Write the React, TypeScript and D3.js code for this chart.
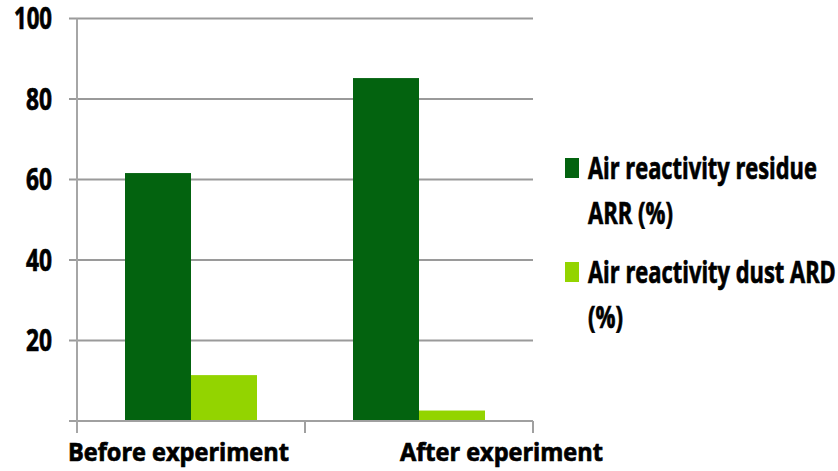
import React, { useLayoutEffect, useRef, useState } from "react";
import * as d3 from "d3";

const categories = ["Before experiment", "After experiment"];
const seriesNames = ["Air reactivity residue ARR (%)", "Air reactivity dust ARD (%)"];
const legendLines = [["Air reactivity residue", "ARR (%)"], ["Air reactivity dust ARD", "(%)"]];
const arrValues = [61.6, 85.2];
const ardValues = [11.4, 2.6];
const yTicks = [20, 40, 60, 80, 100];
const colors = ["#03630F", "#93D400"];

const W = 838, H = 471;
const plot = { left: 77, right: 533, top: 18.5, bottom: 421 };
const FONT = "'Open Sans', 'DejaVu Sans', sans-serif";

function FitText(props: { x: number; y: number; width: number; fontSize: number; anchor?: string; children: string }) {
  const ref = useRef<SVGTextElement>(null);
  const [sx, setSx] = useState(1);
  useLayoutEffect(() => {
    if (ref.current) {
      const w = ref.current.getBBox().width;
      if (w > 0) setSx(props.width / w);
    }
  }, [props.width, props.children, props.fontSize]);
  return (
    <text
      ref={ref}
      transform={`translate(${props.x},${props.y}) scale(${sx},1)`}
      textAnchor={props.anchor || "start"}
      fontSize={props.fontSize}
      fontWeight="bold"
      fill="#000"
      stroke="#000"
      strokeWidth={0.7}
    >
      {props.children}
    </text>
  );
}

export default function App() {
  const x = d3.scaleBand<string>().domain(categories).range([plot.left, plot.right]).paddingInner(0).paddingOuter(0);
  const inner = d3.scaleBand<string>().domain(seriesNames).range([0, x.bandwidth()]).paddingInner(0).paddingOuter(48 / 66);
  const y = d3.scaleLinear().domain([0, 100]).range([plot.bottom, plot.top]);
  const series = [arrValues, ardValues];

  const yLabelWidth = (t: number) => (String(t).length === 3 ? 38 : 26);
  const xLabelX = [68, 400];
  const xLabelLen = [221, 203];
  const legendLens = [[229, 85], [248, 35]];
  const legendTop = [158, 262];

  return (
    <svg width={W} height={H} style={{ position: "absolute", left: 0, top: 0, background: "#fff" }} fontFamily={FONT}>
      {yTicks.map((t) => (
        <line key={t} x1={plot.left - 8} x2={plot.right} y1={y(t)} y2={y(t)} stroke="#9a9a9a" strokeWidth={2} />
      ))}
      {series.map((vals, si) =>
        categories.map((c, ci) => (
          <rect
            key={`${si}-${ci}`}
            x={(x(c) as number) + (inner(seriesNames[si]) as number)}
            width={inner.bandwidth()}
            y={y(vals[ci])}
            height={y(0) - y(vals[ci])}
            fill={colors[si]}
          />
        ))
      )}
      <line x1={plot.left - 8} x2={plot.right} y1={y(0)} y2={y(0)} stroke="#a0a0a0" strokeWidth={2} />
      <line x1={plot.left} x2={plot.left} y1={y(100)} y2={y(0) + 12} stroke="#a6a6a6" strokeWidth={2} />
      {categories.map((c) => (
        <line key={c} x1={(x(c) as number) + x.bandwidth()} x2={(x(c) as number) + x.bandwidth()} y1={y(0)} y2={y(0) + 12} stroke="#a0a0a0" strokeWidth={2} />
      ))}
      {yTicks.map((t) => (
        <FitText key={t} x={52} y={y(t) + 10.5} width={yLabelWidth(t)} fontSize={29.5} anchor="end">{String(t)}</FitText>
      ))}
      {categories.map((c, i) => (
        <FitText key={c} x={xLabelX[i]} y={461} width={xLabelLen[i]} fontSize={24.5}>{c}</FitText>
      ))}
      {legendLines.map((lines, i) => (
        <g key={i}>
          <rect x={565} y={legendTop[i]} width={14} height={20} fill={colors[i]} />
          {lines.map((ln, j) => (
            <FitText key={j} x={588} y={legendTop[i] + 21 + j * 45} width={legendLens[i][j]} fontSize={30}>{ln}</FitText>
          ))}
        </g>
      ))}
    </svg>
  );
}
